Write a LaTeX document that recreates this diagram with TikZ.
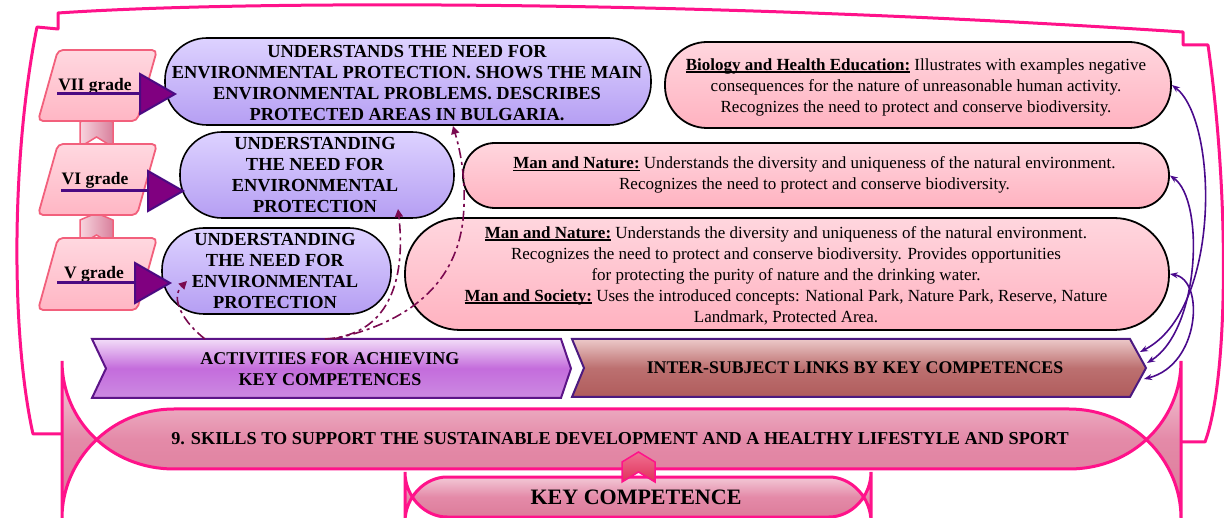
\documentclass[tikz,border=0pt]{standalone}
\usepackage{fontspec}
\setmainfont{Liberation Serif}
\usetikzlibrary{arrows.meta}

\definecolor{framepink}{RGB}{255,18,138}
\definecolor{lavtop}{HTML}{DDD2FF}
\definecolor{lavbot}{HTML}{B59EF3}
\definecolor{pinktop}{HTML}{FFD6DE}
\definecolor{pinkbot}{HTML}{FFB2C0}
\definecolor{gradetop}{HTML}{FFD8E0}
\definecolor{gradebot}{HTML}{FFB6C4}
\definecolor{gradeedge}{HTML}{F2607C}
\definecolor{acttop}{HTML}{F2DCF8}
\definecolor{actmid}{HTML}{C46CDC}
\definecolor{actbot}{HTML}{CC8AE2}
\definecolor{actedge}{HTML}{5C1488}
\definecolor{intertop}{HTML}{ECC8C8}
\definecolor{intermid}{HTML}{BC7070}
\definecolor{interbot}{HTML}{B05C5C}
\definecolor{interedge}{HTML}{4C1A80}
\definecolor{bartop}{HTML}{F6D8E2}
\definecolor{barmid}{HTML}{E48AA8}
\definecolor{barbot}{HTML}{DA7896}
\definecolor{arrowfill}{HTML}{800080}
\definecolor{arrowline}{HTML}{4B0A82}
\definecolor{dashcol}{HTML}{7A0A50}
\definecolor{linkcol}{HTML}{4A0A8C}
\definecolor{chevleft}{HTML}{F8D4DE}
\definecolor{chevright}{HTML}{D8809C}
\definecolor{redtop}{HTML}{F07090}
\definecolor{redbot}{HTML}{E0305A}

% bold label with a thick underline
\newsavebox\labbox
\newcommand\ulabel[1]{\sbox\labbox{\bfseries #1}\rlap{\rule[-2.8pt]{\wd\labbox}{1.6pt}}\usebox\labbox}

\begin{document}
\begin{tikzpicture}[x=1pt,y=-1pt,
  frameline/.style={draw=framepink, line width=3pt, line join=round},
  barshape/.style={draw=framepink, line width=3pt, top color=bartop, bottom color=barbot, middle color=barmid},
  purplebox/.style={draw=black, line width=1.6pt, top color=lavtop, bottom color=lavbot, inner sep=0pt},
  pinkbox/.style={draw=black, line width=1.8pt, top color=pinktop, bottom color=pinkbot, inner sep=0pt},
  purpletext/.style={align=center, inner sep=0pt, font=\bfseries\fontsize{18.4}{21}\selectfont},
  pinktext/.style={align=center, inner sep=0pt, font=\fontsize{17}{21}\selectfont},
  gradeshape/.style={draw=gradeedge, line width=1.8pt, rounded corners=5pt, top color=gradetop, bottom color=gradebot},
  gradetext/.style={inner sep=0pt, anchor=base, font=\bfseries\fontsize{17.5}{20}\selectfont},
  upchev/.style={draw=gradeedge, line width=1.5pt, left color=chevleft, right color=chevright},
  gradearrow/.style={draw=arrowline, line width=3pt, -{Triangle[length=38pt, width=43pt, fill=arrowfill, line width=2pt]}},
  actshape/.style={draw=actedge, line width=2pt, top color=acttop, bottom color=actbot, middle color=actmid},
  intershape/.style={draw=interedge, line width=2pt, top color=intertop, bottom color=interbot, middle color=intermid},
  bartext/.style={inner sep=0pt, anchor=base, font=\bfseries\fontsize{18.2}{21}\selectfont},
  dasharrow/.style={draw=dashcol, line width=1.6pt, dash pattern=on 10pt off 4pt on 3pt off 4pt, -{Triangle[length=8pt, width=8pt]}},
  linkarrow/.style={draw=linkcol, line width=1.6pt, {Stealth[length=8pt, width=6pt]}-{Stealth[length=8pt, width=6pt]}}
]
\useasboundingbox (0,0) rectangle (1224,518);
\clip (0,0) rectangle (1224,518);

% outer frame
\path[frameline] (62,434) -- (33,434) .. controls (10,330) and (12,150) .. (37,27) -- (58,29) -- (58,13)
  .. controls (250,0) and (700,0) .. (1183,32) -- (1183,45) -- (1208,45)
  .. controls (1230,200) and (1228,380) .. (1205,442) -- (1181,442);

% competence bars with ribbon ends
\path[barshape] (62,361) .. controls (62,420) and (110,469) .. (174,469) -- (1069,469)
  .. controls (1133,469) and (1181,420) .. (1181,361) -- (1181,518)
  .. controls (1181,461) and (1133,409) .. (1069,409) -- (174,409)
  .. controls (110,409) and (62,461) .. (62,518) -- cycle;
\node[bartext] (skills) at (620,445) {9. SKILLS TO SUPPORT THE SUSTAINABLE DEVELOPMENT AND A HEALTHY LIFESTYLE AND SPORT};

\path[barshape] (405,472) .. controls (405,497) and (425,517) .. (447,517) -- (829,517)
  .. controls (851,517) and (871,497) .. (871,472) -- (871,522)
  .. controls (871,497) and (851,477) .. (829,477) -- (447,477)
  .. controls (425,477) and (405,497) .. (405,522) -- cycle;
\node[inner sep=0pt, anchor=base, font=\bfseries\fontsize{22}{24}\selectfont] (keycomp) at (636,504) {KEY COMPETENCE};

% small link between the two bars
\path[draw=framepink, line width=1.5pt, top color=redtop, bottom color=redbot]
  (622,462) -- (638.5,452) -- (655,462) -- (655,482) -- (638.5,472) -- (622,482) -- cycle;

% chevron banners
\path[actshape] (92,339) -- (561,339) -- (571,368.5) -- (561,398) -- (92,398) -- (106,368.5) -- cycle;
\node[align=center, inner sep=0pt, font=\bfseries\fontsize{18}{21}\selectfont] (act) at (330,369) {ACTIVITIES FOR ACHIEVING\\KEY COMPETENCES};
\path[intershape] (572,339) -- (1130,339) -- (1146,368) -- (1130,397) -- (572,397) -- (584,368) -- cycle;
\node[bartext, font=\bfseries\fontsize{17.8}{21}\selectfont] (inter) at (855,374) {INTER-SUBJECT LINKS BY KEY COMPETENCES};

\coordinate (actA) at (205,339);
\coordinate (actB) at (325,339);
\coordinate (actC) at (333,339);
\coordinate (inA) at (1140,352);
\coordinate (inB) at (1147,363);
\coordinate (inC) at (1144,379);

% subject boxes
\node[pinkbox, rounded corners=42pt, minimum width=506pt, minimum height=86pt] (bio) at (918,85) {};
\node[pinktext] (biotxt) at (916,87) {\ulabel{Biology and Health Education:} Illustrates with examples negative\\consequences for the nature of unreasonable human activity.\\Recognizes the need to protect and conserve biodiversity.};

\node[pinkbox, rounded corners=32pt, minimum width=706pt, minimum height=65pt] (mn) at (816,175.5) {};
\node[pinktext] (mntxt) at (814.5,175) {\ulabel{Man and Nature:} Understands the diversity and uniqueness of the natural environment.\\Recognizes the need to protect and conserve biodiversity.};

\node[pinkbox, rounded corners=55pt, minimum width=764pt, minimum height=112pt] (big) at (787,274) {};
\node[pinktext] (bigtxt) at (786,275.5) {\ulabel{Man and Nature:} Understands the diversity and uniqueness of the natural environment.\\Recognizes the need to protect and conserve biodiversity. Provides opportunities\\for protecting the purity of nature and the drinking water.\\\ulabel{Man and Society:} Uses the introduced concepts: National Park, Nature Park, Reserve, Nature\\Landmark, Protected Area.};

% outcome boxes per grade
\node[purplebox, rounded corners=42pt, minimum width=486pt, minimum height=87pt] (g7box) at (408,81.5) {};
\node[purpletext] (g7txt) at (407,82.6) {UNDERSTANDS THE NEED FOR\\ENVIRONMENTAL PROTECTION. SHOWS THE MAIN\\ENVIRONMENTAL PROBLEMS. DESCRIBES\\PROTECTED AREAS IN BULGARIA.};

\node[purplebox, rounded corners=42pt, minimum width=274pt, minimum height=86pt] (g6box) at (317,175) {};
\node[purpletext] (g6txt) at (315,175.5) {UNDERSTANDING\\THE NEED FOR\\ENVIRONMENTAL\\PROTECTION};

\node[purplebox, rounded corners=42pt, minimum width=229pt, minimum height=86pt] (g5box) at (276.5,271) {};
\node[purpletext] (g5txt) at (275,271) {UNDERSTANDING\\THE NEED FOR\\ENVIRONMENTAL\\PROTECTION};

% grade steps
\path[upchev] (80,122) -- (96.5,115) -- (113,122) -- (113,147) -- (96.5,137) -- (80,147) -- cycle;
\path[upchev] (80,220) -- (96.5,213) -- (113,220) -- (113,245) -- (96.5,235) -- (80,245) -- cycle;

\path[gradeshape] (58,50) -- (157,50) -- (137,121) -- (38,121) -- cycle;
\path[gradeshape] (58,144) -- (157,144) -- (137,215) -- (38,215) -- cycle;
\path[gradeshape] (58,238) -- (157,238) -- (137,310) -- (38,310) -- cycle;

\node[gradetext] (g7lab) at (95,91) {VII grade};
\node[gradetext] (g6lab) at (95,185) {VI grade};
\node[gradetext] (g5lab) at (94,279) {V grade};

\coordinate (g7s) at (57,94);
\coordinate (g7t) at (177,94);
\coordinate (g6s) at (61,191);
\coordinate (g6t) at (185,191);
\coordinate (g5s) at (57,283);
\coordinate (g5t) at (172,283);
\draw[gradearrow] (g7s) -- (g7t);
\draw[gradearrow] (g6s) -- (g6t);
\draw[gradearrow] (g5s) -- (g5t);

% activities feed the grade outcomes
\coordinate (g5in) at (187,281);
\coordinate (g6in) at (398,209);
\coordinate (g7in) at (453,126);
\draw[dasharrow] (actA) .. controls (183,322) and (170,298) .. (g5in);
\draw[dasharrow] (actB) .. controls (395,335) and (405,270) .. (g6in);
\draw[dasharrow] (actC) .. controls (400,325) and (455,290) .. (463,220) .. controls (467,180) and (460,150) .. (g7in);

% inter-subject links
\draw[linkarrow] (inA) .. controls (1222,310) and (1218,120) .. (bio.east);
\draw[linkarrow] (inB) .. controls (1200,330) and (1205,200) .. (mn.east);
\draw[linkarrow] (inC) .. controls (1200,365) and (1205,280) .. (big.east);
\end{tikzpicture}
\end{document}
